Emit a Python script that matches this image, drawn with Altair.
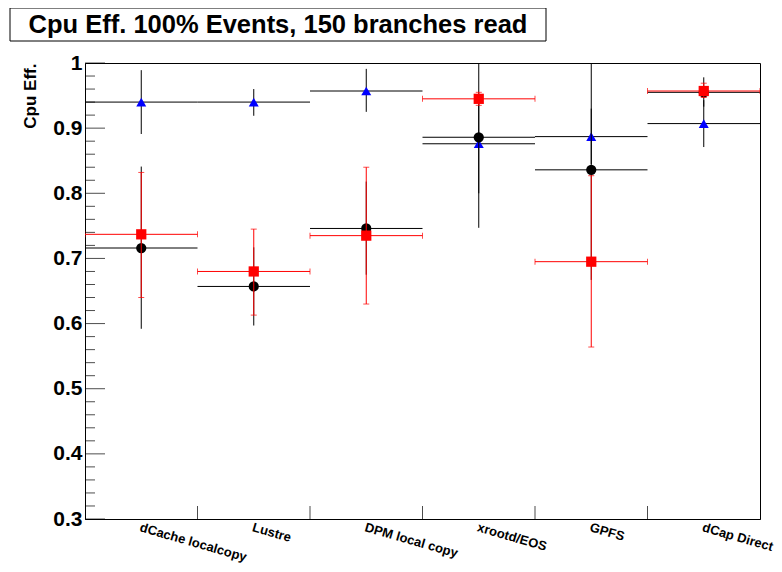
import altair as alt
import pandas as pd

# ---------------- data ----------------
categories = ["dCache localcopy", "Lustre", "DPM local copy", "xrootd/EOS", "GPFS", "dCap Direct"]

black_val = [0.716, 0.657, 0.746, 0.886, 0.836, 0.955]
black_lo = [0.592, 0.597, 0.675, 0.747, 0.667, 0.933]
black_hi = [0.841, 0.717, 0.818, 1.026, 1.006, 0.978]

red_val = [0.737, 0.680, 0.735, 0.945, 0.695, 0.957]
red_lo = [0.640, 0.613, 0.630, 0.935, 0.564, 0.947]
red_hi = [0.832, 0.745, 0.840, 0.955, 0.827, 0.969]

blue_val = [0.940, 0.940, 0.957, 0.876, 0.887, 0.907]
blue_lo = [0.891, 0.919, 0.925, 0.800, 0.845, 0.871]
blue_hi = [0.989, 0.960, 0.991, 0.952, 0.930, 0.943]

major_ticks = [0.3, 0.4, 0.5, 0.6, 0.7, 0.8, 0.9, 1.0]
minor_ticks = [0.32, 0.34, 0.36, 0.38, 0.42, 0.44, 0.46, 0.48, 0.52, 0.54, 0.56, 0.58,
               0.62, 0.64, 0.66, 0.68, 0.72, 0.74, 0.76, 0.78, 0.82, 0.84, 0.86, 0.88,
               0.92, 0.94, 0.96, 0.98]

title_text = "Cpu Eff. 100% Events, 150 branches read"
y_title = "Cpu Eff."

# ---------------- tables ----------------
def series_frame(vals, los, his):
    return pd.DataFrame({
        "left": list(range(len(vals))),
        "right": [i + 1 for i in range(len(vals))],
        "center": [i + 0.5 for i in range(len(vals))],
        "val": vals, "lo": los, "hi": his,
    })

df_black = series_frame(black_val, black_lo, black_hi)
df_red = series_frame(red_val, red_lo, red_hi)
df_blue = series_frame(blue_val, blue_lo, blue_hi)

W, H = 675, 456
FONT = "Liberation Sans"

xs = alt.Scale(domain=[0, len(categories)], nice=False, zero=False)
ys = alt.Scale(domain=[0.3, 1.0], nice=False, zero=False)

label_list = "[" + ",".join("'" + c + "'" for c in categories) + "]"
xaxis = alt.Axis(
    title=None, values=[i + 0.5 for i in range(len(categories))],
    labelExpr=label_list + "[floor(datum.value)]",
    ticks=False, grid=False, domain=True, domainColor="black",
    labelAngle=16, labelAlign="left", labelBaseline="top", labelPadding=2,
    labelFont=FONT, labelFontSize=13, labelFontWeight="bold", labelColor="black",
    labelOverlap=False, labelBound=False, labelFlush=False,
)
yaxis = alt.Axis(
    title=y_title, values=major_ticks, format="~g",
    ticks=False, grid=False, domain=True, domainColor="black",
    labelFont=FONT, labelFontSize=21, labelFontWeight="bold", labelColor="black",
    labelPadding=3, labelBaseline="middle",
    titleFont=FONT, titleFontSize=17, titleFontWeight="bold", titleColor="black",
    titleAngle=270, titleAlign="right", titleBaseline="middle", titleX=-55, titleY=0,
)

def X(f):
    return alt.X(f + ":Q", scale=xs, axis=xaxis)

def Y(f):
    return alt.Y(f + ":Q", scale=ys, axis=yaxis)


def series_layers(df, line_color, marker_color, shape, size, caps):
    base = alt.Chart(df)
    layers = [
        base.mark_rule(color=line_color, strokeWidth=1, clip=True).encode(
            x=X("left"), x2="right:Q", y=Y("val")),
        base.mark_rule(color=line_color, strokeWidth=1, clip=True).encode(
            x=X("center"), y=Y("lo"), y2="hi:Q"),
    ]
    if caps:
        layers += [
            base.mark_tick(orient="vertical", size=6, thickness=1, color=line_color, clip=True).encode(
                x=X("left"), y=Y("val")),
            base.mark_tick(orient="vertical", size=6, thickness=1, color=line_color, clip=True).encode(
                x=X("right"), y=Y("val")),
            base.mark_tick(orient="horizontal", size=6, thickness=1, color=line_color, clip=True).encode(
                x=X("center"), y=Y("lo")),
            base.mark_tick(orient="horizontal", size=6, thickness=1, color=line_color, clip=True).encode(
                x=X("center"), y=Y("hi")),
        ]
    layers.append(
        base.mark_point(filled=True, shape=shape, size=size, color=marker_color,
                        opacity=1, strokeWidth=0).encode(x=X("center"), y=Y("val"))
    )
    return layers

layers = []
layers += series_layers(df_blue, "black", "#0000ff", "triangle-up", 100, False)
layers += series_layers(df_black, "black", "black", "circle", 105, False)
layers += series_layers(df_red, "#ff0000", "#ff0000", "square", 105, True)

# inner (ROOT-style) ticks
df_major = pd.DataFrame({"v": major_ticks})
df_minor = pd.DataFrame({"v": minor_ticks})
df_xt = pd.DataFrame({"v": list(range(1, len(categories)))})
layers += [
    alt.Chart(df_major).mark_tick(orient="horizontal", size=20, thickness=1, color="black").encode(
        y=Y("v"), x=alt.value(10)),
    alt.Chart(df_minor).mark_tick(orient="horizontal", size=10, thickness=1, color="black").encode(
        y=Y("v"), x=alt.value(5)),
    alt.Chart(df_xt).mark_tick(orient="vertical", size=13, thickness=1, color="black").encode(
        x=X("v"), y=alt.value(H - 6.5)),
]

# title box
df_title = pd.DataFrame({"t": [title_text]})
layers += [
    alt.Chart(df_title).mark_rect(fill="white", stroke="black", strokeWidth=1).encode(
        x=alt.value(-75), x2=alt.value(461), y=alt.value(-55), y2=alt.value(-22)),
    alt.Chart(df_title).mark_text(font=FONT, fontSize=25.5, fontWeight="bold", color="black",
                                  align="center", baseline="middle").encode(
        text="t:N", x=alt.value(193), y=alt.value(-38)),
]

chart = alt.layer(*layers).properties(
    width=W, height=H,
    autosize=alt.AutoSizeParams(type="none"),
    padding={"left": 77, "top": 55, "right": 14, "bottom": 45},
    background="white",
).configure_view(stroke="black", strokeWidth=1)

chart.save("out.html", embed_options={"renderer": "svg", "actions": False})
